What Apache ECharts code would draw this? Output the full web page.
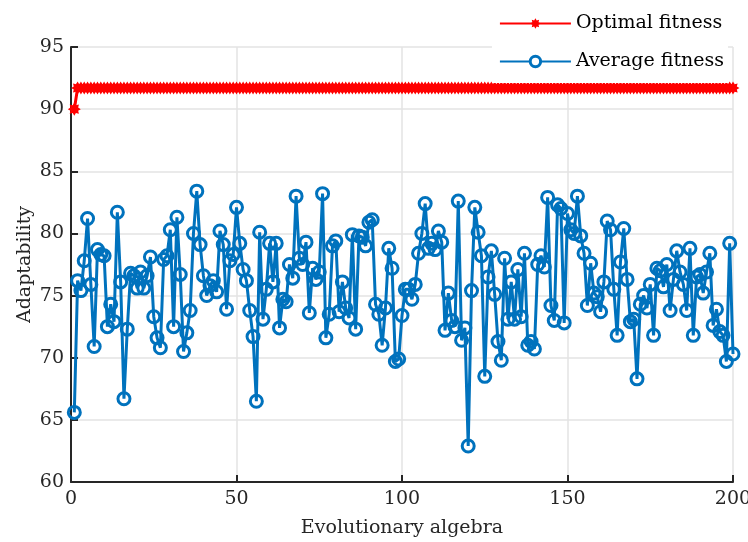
<!DOCTYPE html>
<html>
<head>
<meta charset="utf-8">
<script src="https://cdn.jsdelivr.net/npm/echarts@6/dist/echarts.min.js"></script>
<style>
  html, body { margin: 0; padding: 0; background: #fff; }
  #chart { width: 748px; height: 542px; }
</style>
</head>
<body>
<div id="chart"></div>
<script>
// average fitness per generation (1..200)
var avgFitness = [
  65.6, 76.2, 75.4, 77.8, 81.2, 75.9, 70.9, 78.7, 78.3, 78.2,
  72.5, 74.3, 72.9, 81.7, 76.1, 66.7, 72.3, 76.8, 76.6, 75.6,
  76.9, 75.6, 76.6, 78.1, 73.3, 71.6, 70.8, 77.9, 78.2, 80.3,
  72.5, 81.3, 76.7, 70.5, 72.0, 73.8, 80.0, 83.4, 79.1, 76.6,
  75.0, 75.8, 76.2, 75.3, 80.2, 79.1, 73.9, 77.8, 78.3, 82.1,
  79.2, 77.1, 76.2, 73.8, 71.7, 66.5, 80.1, 73.1, 75.5, 79.2,
  76.1, 79.2, 72.4, 74.7, 74.5, 77.5, 76.4, 83.0, 78.0, 77.5,
  79.3, 73.6, 77.2, 76.3, 76.9, 83.2, 71.6, 73.5, 79.0, 79.4,
  73.7, 76.1, 74.0, 73.2, 79.9, 72.3, 79.8, 79.7, 79.0, 80.9,
  81.1, 74.3, 73.5, 71.0, 74.0, 78.8, 77.2, 69.7, 69.9, 73.4,
  75.5, 75.5, 74.7, 75.9, 78.4, 80.0, 82.4, 78.8, 79.2, 78.7,
  80.2, 79.3, 72.2, 75.2, 73.0, 72.5, 82.6, 71.4, 72.4, 62.9,
  75.4, 82.1, 80.1, 78.2, 68.5, 76.5, 78.6, 75.1, 71.3, 69.8,
  78.0, 73.1, 76.1, 73.1, 77.1, 73.3, 78.4, 71.0, 71.3, 70.7,
  77.5, 78.2, 77.3, 82.9, 74.2, 73.0, 82.3, 82.0, 72.8, 81.6,
  80.3, 80.0, 83.0, 79.8, 78.4, 74.2, 77.6, 75.2, 74.9, 73.7,
  76.1, 81.0, 80.3, 75.5, 71.8, 77.7, 80.4, 76.3, 72.9, 73.1,
  68.3, 74.3, 75.0, 74.0, 75.9, 71.8, 77.2, 77.0, 75.7, 77.5,
  73.8, 76.3, 78.6, 76.9, 75.9, 73.8, 78.8, 71.8, 76.5, 76.7,
  75.2, 76.9, 78.4, 72.6, 73.9, 72.1, 71.8, 69.7, 79.2, 70.3
];
// best fitness: 90 in the first generation, 91.7 afterwards
var bestStart = [90];
var bestRest = 91.7;

var xTicks = [0, 50, 100, 150, 200];
var yTicks = [60, 65, 70, 75, 80, 85, 90, 95];

var avgData = avgFitness.map(function (v, i) { return [i + 1, v]; });
var bestData = [];
for (var i = 0; i < avgFitness.length; i++) {
  bestData.push([i + 1, i < bestStart.length ? bestStart[i] : bestRest]);
}

var font = 'DejaVu Serif';
var star = 'path://M5,0L2.96,1.22L3.54,3.54L1.22,2.96L0,5L-1.22,2.96L-3.54,3.54L-2.96,1.22L-5,0L-2.96,-1.22L-3.54,-3.54L-1.22,-2.96L0,-5L1.22,-2.96L3.54,-3.54L2.96,-1.22Z';
var blue = '#0072bd';
var red = '#ff0000';

var chart = echarts.init(document.getElementById('chart'));
chart.setOption({
  animation: false,
  backgroundColor: '#fff',
  grid: { left: 71, right: 15, top: 47, bottom: 60, containLabel: false, outerBoundsMode: 'none' },
  legend: {
    orient: 'vertical',
    right: 20,
    top: 4,
    itemWidth: 71,
    itemHeight: 13,
    itemGap: 19,
    backgroundColor: '#fff',
    padding: [10, 4, 12, 7],
    textStyle: { fontFamily: font, fontSize: 19, color: '#000' },
    data: [
      { name: 'Optimal fitness' },
      { name: 'Average fitness', itemStyle: { color: '#fff', borderColor: blue, borderWidth: 3 } }
    ]
  },
  xAxis: {
    type: 'value',
    min: xTicks[0],
    max: xTicks[xTicks.length - 1],
    interval: 50,
    name: 'Evolutionary algebra',
    nameLocation: 'middle',
    nameGap: 37,
    nameMoveOverlap: false,
    nameTextStyle: { fontFamily: font, fontSize: 19, color: '#262626' },
    axisLine: { lineStyle: { color: '#262626', width: 2 } },
    axisTick: { inside: true, length: 7, lineStyle: { color: '#262626', width: 2 } },
    axisLabel: { fontFamily: font, fontSize: 19, color: '#262626', margin: 8 },
    splitLine: { show: true, lineStyle: { color: '#e3e3e3', width: 1.5 } }
  },
  yAxis: {
    type: 'value',
    min: yTicks[0],
    max: yTicks[yTicks.length - 1],
    interval: 5,
    name: 'Adaptability',
    nameLocation: 'middle',
    nameGap: 36,
    nameMoveOverlap: false,
    nameRotate: 90,
    nameTextStyle: { fontFamily: font, fontSize: 19, color: '#262626' },
    axisLine: { show: true, lineStyle: { color: '#262626', width: 2 } },
    axisTick: { show: true, inside: true, length: 7, lineStyle: { color: '#262626', width: 2 } },
    axisLabel: { fontFamily: font, fontSize: 19, color: '#262626', margin: 7 },
    splitLine: { show: true, lineStyle: { color: '#e3e3e3', width: 1.5 } }
  },
  series: [
    {
      name: 'Optimal fitness',
      type: 'line',
      data: bestData,
      color: red,
      lineStyle: { width: 3, color: red },
      symbol: star,
      symbolSize: 13,
      showAllSymbol: true,
      itemStyle: { color: red },
      z: 3
    },
    {
      name: 'Average fitness',
      type: 'line',
      data: avgData,
      color: blue,
      lineStyle: { width: 3, color: blue },
      symbol: 'circle',
      symbolSize: 12,
      showAllSymbol: true,
      itemStyle: { color: 'rgba(255,255,255,0)', borderColor: blue, borderWidth: 3 },
      z: 2
    }
  ]
});
</script>
</body>
</html>
